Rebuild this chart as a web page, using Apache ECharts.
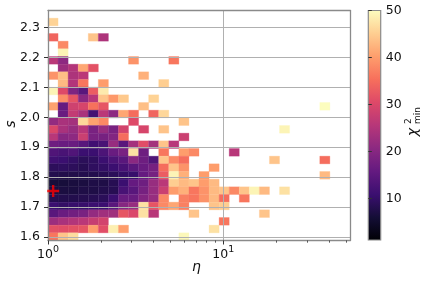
<!DOCTYPE html>
<html>
<head>
<meta charset="utf-8">
<script src="https://cdn.jsdelivr.net/npm/echarts@6/dist/echarts.min.js"></script>
<style>
html,body{margin:0;padding:0;background:#fff;}
#chart{width:428px;height:281px;}
</style>
</head>
<body>
<div id="chart"></div>
<script>
// ---- data ----
const _ = null;
const etaRange = [1, 52.8];          // eta extent of the histogram (log axis)
const sRange = [1.589, 2.356];       // s extent of the histogram
const nEtaBins = 30;
const nSBins = 30;
const sTicks = [1.6, 1.7, 1.8, 1.9, 2.0, 2.1, 2.2, 2.3];
const etaMajorTicks = [1, 10];
const etaMinorTicks = [2, 3, 4, 5, 6, 7, 8, 9, 20, 30, 40, 50];
const chi2Ticks = [10, 20, 30, 40, 50];
const chi2Range = [1.2, 50];
const bestFit = [1.07, 1.754];       // red cross (eta, s)

// chi2_min per cell; rows listed from top (highest s) to bottom, 30 eta bins each
const chi2Rows = [
/*r29*/[_,_,_,_,_,_,_,_,_,_, _,_,_,_,_,_,_,_,_,_, _,_,_,_,_,_,_,_,_,_],
/*r28*/[45.5,_,_,_,_,_,_,_,_,_, _,_,_,_,_,_,_,_,_,_, _,_,_,_,_,_,_,_,_,_],
/*r27*/[_,_,_,_,_,_,_,_,_,_, _,_,_,_,_,_,_,_,_,_, _,_,_,_,_,_,_,_,_,_],
/*r26*/[34,_,_,_,44,24.5,_,_,_,_, _,_,_,_,_,_,_,_,_,_, _,_,_,_,_,_,_,_,_,_],
/*r25*/[_,38,_,_,_,_,_,_,_,_, _,_,_,_,_,_,_,_,_,_, _,_,_,_,_,_,_,_,_,_],
/*r24*/[_,49,_,_,_,_,_,_,_,_, _,_,_,_,_,_,_,_,_,_, _,_,_,_,_,_,_,_,_,_],
/*r23*/[26,20.8,_,_,_,_,_,_,39,_, _,_,36,_,_,_,_,_,_,_, _,_,_,_,_,_,_,_,_,_],
/*r22*/[_,22.5,25,41,31.5,_,_,_,_,_, _,_,_,_,_,_,_,_,_,_, _,_,_,_,_,_,_,_,_,_],
/*r21*/[39,43.5,24.5,26,_,_,_,_,_,42, _,_,_,_,_,_,_,_,_,_, _,_,_,_,_,_,_,_,_,_],
/*r20*/[_,43,25,36,_,40,_,_,_,_, _,45,_,_,_,_,_,_,_,_, _,_,_,_,_,_,_,_,_,_],
/*r19*/[49,30.5,19,14.5,33,48,_,_,_,_, _,_,_,_,_,_,_,_,_,_, _,_,_,_,_,_,_,_,_,_],
/*r18*/[_,38.5,32,20.5,25.7,44,39.5,44.5,_,_, 45.5,_,_,_,_,_,_,_,_,_, _,_,_,_,_,_,_,_,_,_],
/*r17*/[40.5,16,28.5,29.5,35.5,32,_,_,_,43.5, _,_,_,_,_,_,_,_,_,_, _,_,_,_,_,_,_,50,_,_],
/*r16*/[_,16.5,27,24,12,26,20.8,41,35,_, 34,46,_,_,_,_,_,_,_,_, _,_,_,_,_,_,_,_,_,_],
/*r15*/[21.5,24,23.5,46,40.5,38,_,_,30.5,_, _,_,_,44,_,_,_,_,_,_, _,_,_,_,_,_,_,_,_,_],
/*r14*/[30,24,22,25.7,18.4,22,18.4,29,_,29.5, _,44,_,_,_,_,_,_,_,_, _,_,_,49,_,_,_,_,_,_],
/*r13*/[25.7,20,20.8,28,18.4,18,19.5,35,_,_, _,_,_,28,_,_,_,_,_,_, _,_,_,_,_,_,_,_,_,_],
/*r12*/[17,16.5,16.5,14.5,11.5,12.6,22,14.5,23.5,31, 23.5,44,25.7,_,_,_,_,_,_,_, _,_,_,_,_,_,_,_,_,_],
/*r11*/[13.5,12.6,13.5,11,11,13,16.5,18.4,47,17, _,36,_,40,38,_,_,_,25.7,_, _,_,_,_,_,_,_,_,_,_],
/*r10*/[11.5,11,10,9,9.5,11,13,14.5,20.5,17, 13.5,44,38,35,_,_,_,_,_,_, _,_,44,_,_,_,_,35,_,_],
/*r9 */[9.2,9.5,9.2,8.5,9.5,10,11,12.5,14.5,16.5, 18,35,44,39,_,_,40,_,_,_, _,_,_,_,_,_,_,_,_,_],
/*r8 */[8,7.8,7.8,8,8,8.5,9,10,10.5,16, 18,33,49,42,_,40,_,_,_,_, _,_,_,_,_,_,_,43,_,_],
/*r7 */[6.5,6.5,6.8,7,7.5,7.5,8.5,11,16,17, 22,26,45,43,44,40,43,_,_,_, _,_,_,_,_,_,_,_,_,_],
/*r6 */[7,7,7,7.5,7.5,8,8.5,12.5,14.5,18, 22,28,40,42,36,39,43,44,38,44, 49,43,_,47,_,_,_,_,_,_],
/*r5 */[8.2,8,8,8.2,8.5,9,11,16.5,16.5,19.5, 22,38,_,37,36,39,43,35,_,36, _,_,_,_,_,_,_,_,_,_],
/*r4 */[11,10,10.5,10.5,11,11,14.5,20,22,47, 32,38,41,37,_,_,44,45,_,_, _,_,_,_,_,_,_,_,_,_],
/*r3 */[14.5,16.5,17.5,18.4,21.5,23,23,32,30,47, 25.7,_,_,_,44,_,_,_,_,_, _,44,_,_,_,_,_,_,_,_],
/*r2 */[22.5,24,25,26,27.5,29,_,_,_,_, _,_,_,_,_,_,_,36,_,_, _,_,_,_,_,_,_,_,_,_],
/*r1 */[31.5,31,31.5,32,40,31,48.5,40,_,_, _,_,_,_,_,_,47,_,_,_, _,_,_,_,_,_,_,_,_,_],
/*r0 */[36,44,46.5,_,_,_,_,_,_,_, _,_,_,49.5,_,_,_,_,_,_, _,_,_,_,_,_,_,_,_,_]
];

// magma colormap stops
const magma = ['#000004','#140e36','#3b0f70','#641a80','#8c2981','#b73779',
               '#de4968','#f7705c','#fe9f6d','#fecf92','#fcfdbf'];

// ---- build ----
const etaEdge = i => etaRange[0] * Math.pow(etaRange[1] / etaRange[0], i / nEtaBins);
const sEdge = j => sRange[0] + (sRange[1] - sRange[0]) * j / nSBins;

const cells = [];
chi2Rows.forEach((row, k) => {
  const j = nSBins - 1 - k;
  row.forEach((v, i) => {
    if (v === null) return;
    cells.push([etaEdge(i), sEdge(j), v, etaEdge(i + 1), sEdge(j + 1)]);
  });
});

const FONT = 'DejaVu Sans';
const TXT = '#111';
const SPINE = '#8a8a8a';
const GRID = '#b0b0b0';

const chart = echarts.init(document.getElementById('chart'), null, {renderer: 'canvas'});

const option = {
  animation: false,
  backgroundColor: '#fff',
  grid: [
    {left: 48, top: 10.5, right: 78, bottom: 40.5, show: false},
    {left: 368.3, top: 10.5, width: 12.4, height: 229.5, show: false}
  ],
  visualMap: [{
    type: 'continuous', show: false, seriesIndex: 0, dimension: 2,
    min: chi2Range[0], max: chi2Range[1],
    inRange: {color: magma}
  }],
  xAxis: [
    { // main eta axis
      type: 'log', logBase: 10, gridIndex: 0, position: 'bottom', z: 5,
      min: etaRange[0], max: etaRange[1],
      axisLine: {show: true, lineStyle: {color: SPINE, width: 1.3}},
      axisTick: {show: true, customValues: etaMajorTicks, length: 4, lineStyle: {color: '#333', width: 1}},
      splitLine: {show: true, lineStyle: {color: GRID, width: 1}},
      axisLabel: {
        customValues: etaMajorTicks, margin: 4,
        formatter: v => '{b|10}{s|' + Math.round(Math.log10(v)) + '}',
        rich: {
          b: {fontFamily: FONT, fontSize: 12.5, color: TXT, verticalAlign: 'bottom', lineHeight: 17},
          s: {fontFamily: FONT, fontSize: 9.5, color: TXT, verticalAlign: 'top', lineHeight: 17}
        }
      }
    },
    { // minor ticks
      type: 'log', logBase: 10, gridIndex: 0, position: 'bottom', z: 5,
      min: etaRange[0], max: etaRange[1],
      axisLine: {show: false},
      axisTick: {show: true, customValues: etaMinorTicks, length: 2.2, lineStyle: {color: '#333', width: 0.8}},
      splitLine: {show: false},
      axisLabel: {show: false}
    },
    { // top spine
      type: 'log', logBase: 10, gridIndex: 0, position: 'top', z: 5,
      min: etaRange[0], max: etaRange[1],
      axisLine: {show: true, lineStyle: {color: SPINE, width: 1.3}},
      axisTick: {show: false}, splitLine: {show: false}, axisLabel: {show: false}
    },
    { // colorbar x
      type: 'value', gridIndex: 1, min: 0, max: 1, show: false
    }
  ],
  yAxis: [
    {
      type: 'value', gridIndex: 0, position: 'left', z: 5,
      min: sRange[0], max: sRange[1],
      axisLine: {show: true, lineStyle: {color: SPINE, width: 1.3}},
      axisTick: {show: true, customValues: sTicks, length: 4, lineStyle: {color: '#333', width: 1}},
      splitLine: {show: true, lineStyle: {color: GRID, width: 1}},
      axisLabel: {customValues: sTicks, margin: 8, fontFamily: FONT, fontSize: 12.5, color: TXT,
                  formatter: v => v.toFixed(1)}
    },
    { // right spine
      type: 'value', gridIndex: 0, position: 'right', z: 5,
      min: sRange[0], max: sRange[1],
      axisLine: {show: true, lineStyle: {color: SPINE, width: 1.3}},
      axisTick: {show: false}, splitLine: {show: false}, axisLabel: {show: false}
    },
    { // colorbar axis
      type: 'value', gridIndex: 1, position: 'right', z: 5,
      min: chi2Range[0], max: chi2Range[1],
      axisLine: {show: false},
      axisTick: {show: true, customValues: chi2Ticks, length: 3.5, lineStyle: {color: '#333', width: 1}},
      splitLine: {show: false},
      axisLabel: {customValues: chi2Ticks, margin: 5, fontFamily: FONT, fontSize: 12.5, color: TXT}
    }
  ],
  series: [
    {
      type: 'custom', xAxisIndex: 0, yAxisIndex: 0, z: 2,
      dimensions: ['eta0', 's0', 'chi2', 'eta1', 's1'],
      encode: {x: [0, 3], y: [1, 4]},
      data: cells,
      renderItem: (params, api) => {
        const p0 = api.coord([api.value(0), api.value(1)]);
        const p1 = api.coord([api.value(3), api.value(4)]);
        const c = api.visual('color');
        return {
          type: 'rect',
          shape: {
            x: Math.min(p0[0], p1[0]), y: Math.min(p0[1], p1[1]),
            width: Math.abs(p1[0] - p0[0]), height: Math.abs(p1[1] - p0[1])
          },
          style: {fill: c, stroke: c, lineWidth: 0.3}
        };
      }
    },
    {
      type: 'scatter', xAxisIndex: 0, yAxisIndex: 0, z: 10,
      data: [bestFit],
      symbol: 'path://M4,0H6V4H10V6H6V10H4V6H0V4H4Z',
      symbolSize: 12,
      itemStyle: {color: '#ff0000'},
      silent: true
    },
    {
      type: 'custom', xAxisIndex: 3, yAxisIndex: 2, z: 2,
      data: [[0, chi2Range[0], 1, chi2Range[1]]],
      encode: {x: [0, 2], y: [1, 3]},
      renderItem: (params, api) => {
        const p0 = api.coord([api.value(0), api.value(1)]);
        const p1 = api.coord([api.value(2), api.value(3)]);
        return {
          type: 'rect',
          shape: {x: p0[0], y: p1[1], width: p1[0] - p0[0], height: p0[1] - p1[1]},
          style: {
            fill: {
              type: 'linear', x: 0, y: 1, x2: 0, y2: 0,
              colorStops: magma.map((col, k) => ({offset: k / (magma.length - 1), color: col}))
            },
            stroke: SPINE, lineWidth: 1.2
          }
        };
      }
    }
  ],
  graphic: [
    {type: 'text', left: 192, top: 260,
     style: {text: 'η', fontFamily: FONT, fontStyle: 'italic', fontSize: 14, fill: TXT}},
    {type: 'text', x: 11, y: 124, rotation: Math.PI / 2,
     style: {text: 's', fontFamily: FONT, fontStyle: 'italic', fontSize: 14, fill: TXT,
             align: 'center', verticalAlign: 'middle'}},
    {type: 'group', x: 413, y: 125, rotation: Math.PI / 2, children: [
      {type: 'text', x: -7, y: 0,
       style: {text: 'χ', fontFamily: FONT, fontStyle: 'italic', fontSize: 14, fill: TXT,
               align: 'center', verticalAlign: 'middle'}},
      {type: 'text', x: 1, y: -4,
       style: {text: '2', fontFamily: FONT, fontSize: 9, fill: TXT, align: 'left', verticalAlign: 'middle'}},
      {type: 'text', x: 1, y: 5,
       style: {text: 'min', fontFamily: FONT, fontSize: 9, fill: TXT, align: 'left', verticalAlign: 'middle'}}
    ]}
  ]
};
chart.setOption(option);
</script>
</body>
</html>
